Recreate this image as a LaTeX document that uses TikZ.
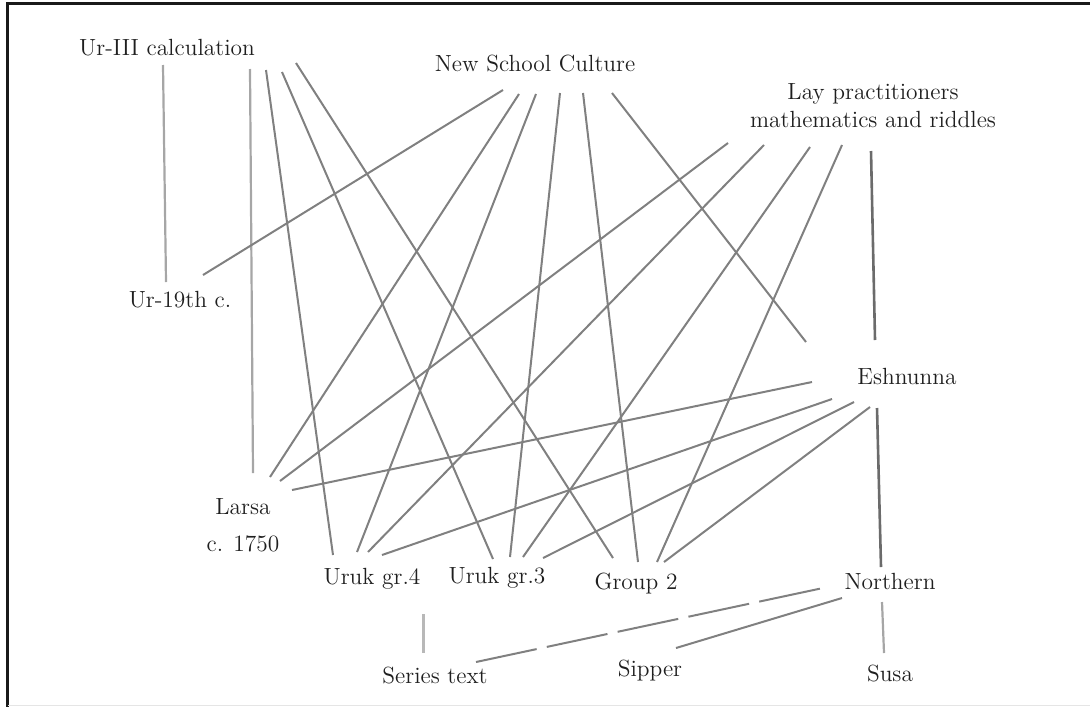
\documentclass[tikz,border=0pt]{standalone}
\usetikzlibrary{calc}
\begin{document}
\begin{tikzpicture}[x=0.5pt,y=-0.5pt,
  lbl/.style={anchor=base,inner sep=0pt,text=black!88,font=\fontsize{11.7}{14}\selectfont},
  lblc/.style={anchor=center,inner sep=0pt,text=black!88,align=center,font=\fontsize{11.7}{14}\selectfont},
  edge/.style={draw=black!50,line width=1pt},
  dark/.style={draw=black!58,line width=1.3pt},
  light/.style={draw=black!35,line width=1.1pt},
  pale/.style={draw=black!28,line width=1.5pt},
  gapped/.style={draw=black!50,line width=1pt,dash pattern=on 31pt off 5.2pt}]
\useasboundingbox (0,0) rectangle (1090,707);
% frame
\draw[black!90,line width=1.6pt] (6,3.5) -- (1090,3.5);
\draw[black!90,line width=1.6pt] (7.5,3) -- (7.5,707);
\draw[black!10,line width=0.6pt] (8,705.5) -- (1090,705.5);
% nodes
\node[lbl] (ur3) at (167,55) {Ur-III calculation};
\node[lbl] (nsc) at (535,71) {New School Culture};
\node[lblc] (lay) at (873,105.5) {Lay practitioners\\mathematics and riddles};
\node[lbl] (ur19) at (180,307) {Ur-19th c.};
\node[lbl] (esh) at (907,384) {Eshnunna};
\node[lblc] (larsa) at (243,525.5) {Larsa\\[4.5pt]c. 1750};
\node[lbl] (u4) at (372,584) {Uruk gr.4};
\node[lbl] (u3) at (497,583) {Uruk gr.3};
\node[lbl] (g2) at (636,589) {Group 2};
\node[lbl] (north) at (890,589) {Northern};
\node[lbl] (series) at (435,683) {Series text};
\node[lbl] (sipper) at (650,676) {Sipper};
\node[lbl] (susa) at (890,681) {Susa};
% connectors from Ur-III calculation
\draw[light] ([shift={(-4,10)}]ur3.base) -- ([shift={(-14,-25)}]ur19.base);
\draw[light] ([shift={(83,14)}]ur3.base) -- ([shift={(10,-52.5)}]larsa.center);
\draw[edge] ([shift={(99,15)}]ur3.base) -- ([shift={(-39,-29)}]u4.base);
\draw[edge] ([shift={(115,17)}]ur3.base) -- ([shift={(-4,-24)}]u3.base);
\draw[edge] ([shift={(129,8)}]ur3.base) -- ([shift={(-23,-31)}]g2.base);
% connectors from New School Culture
\draw[edge] ([shift={(-32,19)}]nsc.base) -- ([shift={(23,-32)}]ur19.base);
\draw[edge] ([shift={(-16,23)}]nsc.base) -- ([shift={(27,-48.5)}]larsa.center);
\draw[edge] ([shift={(1,23)}]nsc.base) -- ([shift={(-15,-32)}]u4.base);
\draw[edge] ([shift={(25,22)}]nsc.base) -- ([shift={(13,-26)}]u3.base);
\draw[edge] ([shift={(48,22)}]nsc.base) -- ([shift={(2,-27)}]g2.base);
\draw[edge] ([shift={(77,22)}]nsc.base) -- ([shift={(-101,-42)}]esh.base);
% connectors from Lay practitioners
\draw[edge] ([shift={(-145,37.5)}]lay.center) -- ([shift={(37,-44.5)}]larsa.center);
\draw[edge] ([shift={(-109,39.5)}]lay.center) -- ([shift={(-4,-32)}]u4.base);
\draw[edge] ([shift={(-63,41.5)}]lay.center) -- ([shift={(26,-26)}]u3.base);
\draw[edge] ([shift={(-31,39.5)}]lay.center) -- ([shift={(21,-27)}]g2.base);
\draw[dark] ([shift={(-2,45.5)}]lay.center) -- ([shift={(-32,-44)}]esh.base);
% connectors from Eshnunna
\draw[edge] ([shift={(-95,-2)}]esh.base) -- ([shift={(49,-35.5)}]larsa.center);
\draw[edge] ([shift={(-75,15)}]esh.base) -- ([shift={(10,-29)}]u4.base);
\draw[edge] ([shift={(-53,18)}]esh.base) -- ([shift={(46,-25)}]u3.base);
\draw[edge] ([shift={(-37,23)}]esh.base) -- ([shift={(28,-27)}]g2.base);
\draw[dark] ([shift={(-30,24)}]esh.base) -- ([shift={(-9,-22)}]north.base);
% connectors from Northern
\draw[light] ([shift={(-8,13)}]north.base) -- ([shift={(-6,-28)}]susa.base);
\draw[edge] ([shift={(-48,9)}]north.base) -- ([shift={(26,-28)}]sipper.base);
\draw[gapped] ([shift={(41,-21)}]series.base) -- ([shift={(-67,-1)}]north.base);
% Uruk gr.4 to Series text
\draw[pale] ([shift={(51,30)}]u4.base) -- ([shift={(-12,-30)}]series.base);
\end{tikzpicture}
\end{document}
